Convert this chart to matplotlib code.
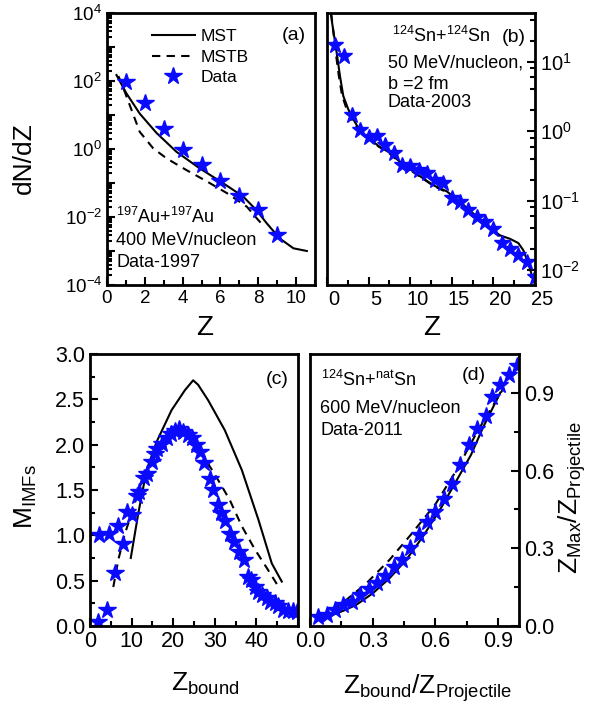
import numpy as np
import matplotlib
matplotlib.use("Agg")
import matplotlib.pyplot as plt
from matplotlib.ticker import (FixedLocator, FuncFormatter, LogLocator,
                               MultipleLocator, NullFormatter, FormatStrFormatter)
from matplotlib.transforms import ScaledTranslation

plt.rcParams["font.family"] = ["Liberation Sans", "DejaVu Sans"]
plt.rcParams["mathtext.fontset"] = "custom"
plt.rcParams["mathtext.rm"] = "Liberation Sans"
plt.rcParams["mathtext.it"] = "Liberation Sans:italic"
plt.rcParams["mathtext.bf"] = "Liberation Sans:bold"
plt.rcParams["mathtext.default"] = "regular"

# ---------------- (a) 197Au+197Au, 400 MeV/nucleon ----------------
a_data_z = [1, 2, 3, 4, 5, 6, 7, 8, 9]
a_data_y = [95, 22, 3.8, 0.93, 0.34, 0.117, 0.041, 0.016, 0.0030]
a_mst_z = [0.5, 1.02, 1.73, 2.61, 3.67, 4.9, 6.15, 7.2, 7.9, 8.45, 9.15, 9.86, 10.57]
a_mst_y = [150, 44, 11, 3.0, 0.83, 0.27, 0.098, 0.040, 0.016, 0.0065, 0.0023, 0.0012, 0.001]
a_mstb_z = [0.6, 0.77, 1.3, 1.73, 2.44, 3.15, 4.2, 5.3, 6.35, 7.4, 8.0, 8.2]
a_mstb_y = [140, 85, 14, 3.2, 1.05, 0.53, 0.24, 0.11, 0.05, 0.020, 0.0081, 0.0062]

# ---------------- (b) 124Sn+124Sn, 50 MeV/nucleon ----------------
b_data_z = list(range(1, 26))
b_data_y = [17.5, 12.2, 1.69, 1.04, 0.83, 0.86, 0.64, 0.48, 0.33, 0.32, 0.28, 0.25,
            0.20, 0.18, 0.109, 0.095, 0.074, 0.058, 0.049, 0.039, 0.0245, 0.0204,
            0.0163, 0.0131, 0.008]
b_mst_z = [0.45, 0.56, 1.17, 1.56, 1.96, 2.56, 3.16, 4.0, 5.0, 6.2, 7.4, 8.8, 10.4,
           12.8, 14.4, 16.8, 19.2, 20.8, 22.0, 23.0, 23.6, 24.2, 24.7, 25.0]
b_mst_y = [50, 40, 13.3, 6.2, 3.2, 2.06, 1.48, 1.0, 0.80, 0.61, 0.50, 0.36, 0.26,
           0.166, 0.136, 0.079, 0.044, 0.0316, 0.0282, 0.0245, 0.0193, 0.0124,
           0.0079, 0.0062]
b_mstb_z = [0.5, 0.6, 1.0, 1.4, 1.8, 2.4, 3.1, 4.0, 5.0, 6.2, 7.4, 8.8, 10.4, 12.8,
            14.4, 16.8, 19.2, 20.8]
b_mstb_y = [50, 40, 15, 6.5, 3.3, 2.0, 1.4, 0.97, 0.78, 0.60, 0.49, 0.35, 0.255,
            0.163, 0.132, 0.077, 0.043, 0.031]

# ---------------- (c) M_IMFs versus Z_bound ----------------
c_data_zb = [2.0, 2.2, 4.0, 4.6, 6.0, 6.8, 8.0, 8.8, 10.0, 11.2, 11.8, 13.1, 13.6,
             14.8, 15.6, 16.2, 17.4, 18.4, 19.4, 20.4, 21.4, 22.4, 23.5, 24.4, 25.5,
             26.5, 27.5, 28.8, 29.6, 30.8, 31.6, 32.5, 33.7, 34.7, 35.8, 37.1, 38.1,
             38.8, 39.7, 40.5, 41.4, 42.5, 43.3, 44.5, 45.3, 46.5, 47.7, 48.9, 49.7]
c_data_m = [0.04, 1.00, 0.18, 1.01, 0.58, 1.10, 0.90, 1.26, 1.22, 1.43, 1.48, 1.63,
            1.68, 1.81, 1.90, 1.95, 2.01, 2.07, 2.12, 2.15, 2.17, 2.14, 2.11, 2.07,
            2.00, 1.92, 1.80, 1.62, 1.50, 1.34, 1.25, 1.16, 1.02, 0.93, 0.82, 0.73,
            0.54, 0.51, 0.43, 0.38, 0.34, 0.31, 0.27, 0.25, 0.22, 0.18, 0.17, 0.16,
            0.15]
c_mst_zb = [9.8, 11.6, 13.6, 16.0, 19.6, 22.8, 24.8, 26.0, 28.4, 32.4, 36.5, 40.5,
            43.7, 46.1]
c_mst_m = [0.75, 1.24, 1.72, 2.03, 2.38, 2.60, 2.71, 2.66, 2.49, 2.16, 1.72, 1.17,
           0.69, 0.49]
c_mstb_zb = [5.6, 6.8, 8.4, 10.0, 12.0, 14.0, 16.5, 19.0, 21.5, 24.0, 26.2, 28.4,
             30.8, 33.6, 36.5, 39.7, 42.5, 45.5]
c_mstb_m = [0.43, 0.73, 1.02, 1.24, 1.54, 1.76, 1.97, 2.10, 2.15, 2.10, 1.97, 1.79,
            1.61, 1.39, 1.10, 0.84, 0.64, 0.42]

# ---------------- (d) Z_max/Z_proj versus Z_bound/Z_proj ----------------
d_data_x = [0.04, 0.08, 0.12, 0.16, 0.20, 0.24, 0.28, 0.32, 0.36, 0.40, 0.44, 0.48,
            0.52, 0.56, 0.60, 0.64, 0.68, 0.72, 0.76, 0.80, 0.84, 0.87, 0.91, 0.95,
            0.99]
d_data_y = [0.034, 0.042, 0.062, 0.081, 0.094, 0.12, 0.142, 0.167, 0.193, 0.227,
            0.255, 0.30, 0.35, 0.40, 0.44, 0.49, 0.55, 0.62, 0.70, 0.76, 0.81, 0.885,
            0.93, 0.97, 1.004]
d_mst_x = [0.03, 0.10, 0.16, 0.22, 0.30, 0.38, 0.46, 0.54, 0.63, 0.70, 0.77, 0.83, 0.91]
d_mst_y = [0.02, 0.04, 0.059, 0.081, 0.126, 0.184, 0.255, 0.345, 0.46, 0.56, 0.66,
           0.77, 0.90]
d_mstb_x = [0.05, 0.15, 0.27, 0.38, 0.48, 0.60, 0.70, 0.80, 0.92]
d_mstb_y = [0.035, 0.085, 0.165, 0.255, 0.35, 0.47, 0.60, 0.75, 0.91]

BLUE = "#0a0aff"
W, H = 604, 709
fig = plt.figure(figsize=(W / 100, H / 100), dpi=100)


def box(l, t, r, b):
    return [l / W, 1 - b / H, (r - l) / W, (b - t) / H]


def fpos(x, y):
    return x / W, 1 - y / H


def style(ax, fs):
    for s in ax.spines.values():
        s.set_linewidth(2.0)
    ax.tick_params(which="both", direction="in", width=1.5, labelsize=fs)
    ax.tick_params(which="major", length=6)
    ax.tick_params(which="minor", length=3.5)


def curves(ax, x1, y1, x2, y2, xs, ys, ms):
    ax.plot(x1, y1, color="black", lw=1.5, label="MST")
    ax.plot(x2, y2, color="black", lw=1.5, ls=(0, (4, 3)), label="MSTB")
    ax.plot(xs, ys, ls="none", marker="*", ms=ms, color=BLUE, mec=BLUE,
            label="Data")


def place_label(axis, x, y):
    # put an axis label's centre at a pixel position of the figure
    axis.set_label_coords(*fpos(x, y), transform=fig.transFigure)
    axis.label.set_verticalalignment("center")
    axis.label.set_horizontalalignment("center")


def pow_fmt(step):
    def f(v, pos):
        e = int(round(np.log10(v)))
        if e % step:
            return ""
        return r"$\mathregular{10^{%d}}$" % e
    return FuncFormatter(f)


# ---- panel (a)
axa = fig.add_axes(box(107, 13, 315, 285))
curves(axa, a_mst_z, a_mst_y, a_mstb_z, a_mstb_y, a_data_z, a_data_y, 13)
axa.set_yscale("log")
axa.set_xlim(0, 11)
axa.set_ylim(1e-4, 1e4)
axa.yaxis.set_major_locator(FixedLocator([10.0 ** e for e in range(-4, 5)]))
axa.yaxis.set_major_formatter(pow_fmt(2))
axa.yaxis.set_minor_locator(LogLocator(base=10, subs=np.arange(2, 10), numticks=20))
axa.yaxis.set_minor_formatter(NullFormatter())
axa.xaxis.set_major_locator(MultipleLocator(2))
axa.xaxis.set_minor_locator(MultipleLocator(1))
style(axa, 13.5)
axa.tick_params(which="both", right=False, top=False)
axa.set_xlabel("Z", fontsize=20)
place_label(axa.xaxis, 205, 328)
axa.set_ylabel("dN/dZ", fontsize=19)
place_label(axa.yaxis, 24, 158)
axa.legend(loc="upper left", bbox_to_anchor=(0.215, 0.94), frameon=False,
           fontsize=12.5, handlelength=2.5, handletextpad=0.3, labelspacing=0.3,
           borderpad=0, borderaxespad=0)
fig.text(*fpos(282, 40), "(a)", fontsize=14, va="baseline")
fig.text(*fpos(116, 223), r"$^{197}$Au+$^{197}$Au", fontsize=13, va="baseline")
fig.text(*fpos(116, 245), "400 MeV/nucleon", fontsize=13, va="baseline")
fig.text(*fpos(116, 267), "Data-1997", fontsize=13, va="baseline")

# ---- panel (b)
axb = fig.add_axes(box(327, 13, 535, 285))
curves(axb, b_mst_z, b_mst_y, b_mstb_z, b_mstb_y, b_data_z, b_data_y, 12)
axb.set_yscale("log")
axb.set_xlim(0, 25)
axb.set_ylim(10 ** -2.214, 10 ** 1.70)
axb.yaxis.set_major_locator(FixedLocator([1e-2, 1e-1, 1e0, 1e1]))
axb.yaxis.set_major_formatter(pow_fmt(1))
axb.yaxis.set_minor_locator(LogLocator(base=10, subs=[2, 4, 6, 8], numticks=20))
axb.yaxis.set_minor_formatter(NullFormatter())
axb.xaxis.set_major_locator(FixedLocator([0, 5, 10, 15, 20, 25]))
axb.xaxis.set_minor_locator(FixedLocator([2.5, 7.5, 12.5, 17.5, 22.5]))
style(axb, 14.5)
axb.yaxis.tick_right()
axb.tick_params(which="both", left=False, top=False)
shift = ScaledTranslation(7 / 100, 0, fig.dpi_scale_trans)
for t in axb.xaxis.get_major_ticks():
    t.label1.set_transform(t.label1.get_transform() + shift)
axb.set_xlabel("Z", fontsize=20)
place_label(axb.xaxis, 432, 328)
fig.text(*fpos(392, 42), r"$^{124}$Sn+$^{124}$Sn", fontsize=13, va="baseline")
fig.text(*fpos(502, 42), "(b)", fontsize=14, va="baseline")
fig.text(*fpos(388, 67), "50 MeV/nucleon,", fontsize=13, va="baseline")
fig.text(*fpos(388, 89), "b =2 fm", fontsize=13, va="baseline")
fig.text(*fpos(388, 107), "Data-2003", fontsize=13, va="baseline")

# ---- panel (c)
axc = fig.add_axes(box(90, 354, 298, 626))
curves(axc, c_mst_zb, c_mst_m, c_mstb_zb, c_mstb_m, c_data_zb, c_data_m, 13)
axc.set_xlim(0, 50)
axc.set_ylim(0, 3.0)
axc.xaxis.set_major_locator(FixedLocator([0, 10, 20, 30, 40, 50]))
axc.xaxis.set_major_formatter(FuncFormatter(lambda v, p: "" if v >= 50 else "%d" % v))
axc.xaxis.set_minor_locator(MultipleLocator(5))
axc.yaxis.set_major_locator(MultipleLocator(0.5))
axc.yaxis.set_major_formatter(FormatStrFormatter("%.1f"))
axc.yaxis.set_minor_locator(MultipleLocator(0.25))
style(axc, 15.5)
axc.tick_params(which="both", right=False, top=False)
axc.set_xlabel(r"Z$_{bound}$", fontsize=19)
place_label(axc.xaxis, 205, 684)
axc.set_ylabel(r"M$_{IMFs}$", fontsize=19)
place_label(axc.yaxis, 26, 497)
fig.text(*fpos(266, 384), "(c)", fontsize=14, va="baseline")

# ---- panel (d)
axd = fig.add_axes(box(310, 354, 519, 626))
curves(axd, d_mst_x, d_mst_y, d_mstb_x, d_mstb_y, d_data_x, d_data_y, 12.5)
axd.set_xlim(0, 1.0)
axd.set_ylim(0, 1.05)
axd.xaxis.set_major_locator(FixedLocator([0.0, 0.3, 0.6, 0.9]))
axd.xaxis.set_major_formatter(FormatStrFormatter("%.1f"))
axd.xaxis.set_minor_locator(FixedLocator([0.15, 0.45, 0.75]))
axd.yaxis.set_major_locator(FixedLocator([0.0, 0.3, 0.6, 0.9]))
axd.yaxis.set_major_formatter(FormatStrFormatter("%.1f"))
axd.yaxis.set_minor_locator(FixedLocator([0.15, 0.45, 0.75]))
style(axd, 15.5)
axd.yaxis.tick_right()
axd.tick_params(which="both", left=False, top=False)
axd.set_xlabel(r"Z$_{bound}$/Z$_{Projectile}$", fontsize=19)
place_label(axd.xaxis, 428, 688)
axd.yaxis.set_label_position("right")
axd.set_ylabel(r"Z$_{Max}$/Z$_{Projectile}$", fontsize=19)
place_label(axd.yaxis, 572, 498)
fig.text(*fpos(321, 386), r"$^{124}$Sn+$^{nat}$Sn", fontsize=13, va="baseline")
fig.text(*fpos(462, 380), "(d)", fontsize=14, va="baseline")
fig.text(*fpos(320, 413), "600 MeV/nucleon", fontsize=13, va="baseline")
fig.text(*fpos(320, 435), "Data-2011", fontsize=13, va="baseline")

fig.savefig("out.png", dpi=100)
